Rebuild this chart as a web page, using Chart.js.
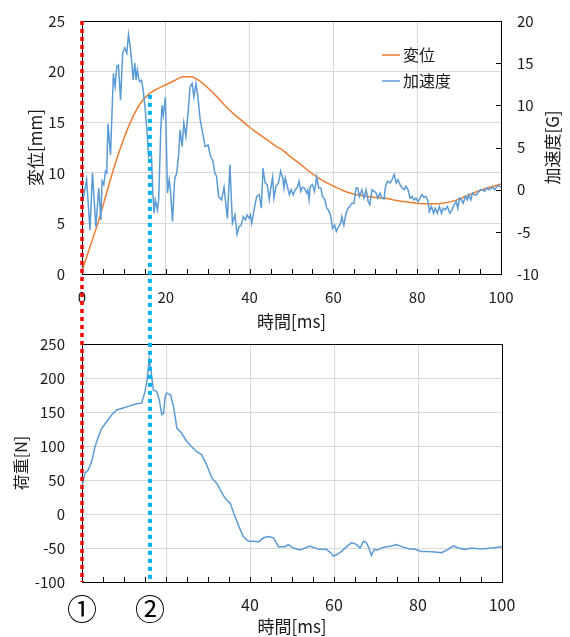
<!DOCTYPE html>
<html lang="ja">
<head>
<meta charset="utf-8">
<script src="https://cdn.jsdelivr.net/npm/chart.js@4.4.1/dist/chart.umd.min.js"></script>
<style>
  body { margin: 0; background: #fff; }
  #wrap { position: relative; width: 570px; height: 637px; }
  canvas { position: absolute; left: 0; display: block; }
  #topChart { top: 0; }
  #loadChart { top: 335px; }
</style>
</head>
<body>
<div id="wrap">
  <canvas id="topChart" width="570" height="335"></canvas>
  <canvas id="loadChart" width="570" height="302"></canvas>
</div>
<script>
// 変位 [mm]
const dispTime = [0, 2, 4, 6, 8, 10, 12, 14, 16, 18, 20, 22, 24, 26, 28, 30, 32, 34, 36, 38, 40,
  42, 44, 46, 48, 50, 52, 54, 56, 58, 60, 62, 64, 66, 68, 70, 72, 74, 76, 78, 80,
  82, 84, 86, 88, 90, 92, 94, 96, 98, 100];
const dispValues = [0.3, 2.8, 5.3, 8.2, 11.0, 13.4, 15.4, 16.9, 17.8, 18.3, 18.7, 19.1, 19.5, 19.5, 19.1, 18.4, 17.6, 16.7, 15.9, 15.2, 14.5,
  13.9, 13.3, 12.7, 12.2, 11.5, 10.9, 10.2, 9.6, 9.1, 8.7, 8.3, 8.0, 7.8, 7.65, 7.55, 7.5, 7.35, 7.2, 7.1, 7.0,
  6.95, 6.95, 7.0, 7.15, 7.4, 7.75, 8.1, 8.4, 8.65, 8.9];

// 加速度 [G]
const accTime = [0.2, 1.1, 1.9, 2.5, 3.3, 4.0, 4.5, 4.8, 5.2, 5.6, 5.9, 6.2, 6.8, 7.5, 7.9, 8.3, 8.7, 9.2, 9.7, 10.2,
  10.7, 11.1, 11.5, 11.9, 12.2, 12.6, 12.9, 13.2, 13.7, 14.2, 14.6, 15.1, 15.6, 15.9, 16.4, 16.6, 16.9, 17.2, 17.5, 18.0,
  18.3, 18.8, 19.1, 19.4, 19.9, 20.4, 20.8, 21.1, 21.6, 22.1, 22.6, 23.1, 23.4, 23.9, 24.3, 24.8, 25.3, 25.8, 26.3, 26.7,
  27.2, 27.7, 28.2, 28.8, 29.4, 30.1, 30.7, 31.2, 31.7, 32.1, 32.6, 33.3, 33.9, 34.7, 35.3, 35.9, 36.5, 37.0, 37.5, 38.0,
  38.5, 39.0, 39.4, 39.9, 40.2, 40.5, 41.2, 41.7, 42.3, 42.8, 43.2, 43.7, 44.2, 44.7, 45.0, 45.5, 45.8, 46.3, 46.9, 47.4,
  47.9, 48.2, 48.5, 49.0, 49.5, 49.9, 50.4, 50.9, 51.4, 51.8, 52.2, 52.6, 53.1, 53.6, 53.9, 54.2, 54.5, 55.0, 55.5, 56.0,
  56.5, 57.0, 57.4, 58.0, 58.4, 58.8, 59.3, 59.8, 60.3, 60.7, 61.2, 61.7, 62.0, 62.5, 63.0, 63.5, 63.9, 64.4, 64.9, 65.4,
  65.8, 66.2, 66.8, 67.3, 67.8, 68.3, 68.7, 69.2, 69.7, 70.2, 70.6, 71.1, 71.6, 72.1, 72.4, 72.9, 73.5, 74.0, 74.5, 75.0,
  75.4, 75.9, 76.4, 76.9, 77.3, 77.8, 78.3, 78.8, 79.2, 79.7, 80.2, 80.7, 81.1, 81.6, 82.1, 82.6, 82.9, 83.4, 83.9, 84.3,
  84.8, 85.3, 85.8, 86.2, 86.7, 87.2, 87.8, 88.3, 88.8, 89.3, 89.7, 90.1, 90.5, 91.0, 91.5, 92.0, 92.3, 92.8, 93.2, 93.7,
  94.2, 94.7, 95.1, 95.6, 96.1, 96.6, 97.1, 97.5, 98.0, 98.5, 98.9, 99.4, 100];
const accValues = [-1.4, 1.2, -4.8, 2.0, -4.4, 0.2, -3.6, 1.0, 0.6, 2.2, 2.0, 7.8, 4.1, 13.8, 12.2, 14.6, 14.8, 10.6, 16.2, 16.8,
  16.2, 18.4, 17.0, 15.0, 13.0, 15.0, 13.0, 14.2, 12.8, 13.0, 11.8, 9.5, 6.3, 3.9, 4.3, 3.9, -0.4, -2.8, -1.2, -2.4,
  -1.2, 7.1, 10.0, 8.8, 11.0, -0.4, 1.2, 0.0, -3.8, 1.2, 2.0, 4.3, 7.1, 5.1, 7.9, 6.3, 9.1, 12.2, 12.6, 11.0,
  12.6, 10.8, 8.3, 6.7, 5.1, 5.3, 3.9, 3.5, 2.0, 1.6, -0.8, -1.2, 0.3, -3.4, 2.95, -3.96, -3.0, -5.3, -4.4, -4.2,
  -3.2, -3.6, -3.0, -3.4, -3.0, -4.0, -2.0, -0.8, -0.6, -2.2, 2.55, 0.8, 0.6, -1.2, 0.0, 1.5, -1.0, 0.4, 0.8, 2.2,
  1.4, 0.2, 1.4, 0.4, -0.6, 0.0, -0.6, 0.0, 0.3, 1.0, -0.2, 0.3, 0.2, -0.4, 0.0, -1.2, 0.4, 0.6, -0.2, 1.5,
  0.2, 0.2, -0.8, -1.2, -2.2, -2.4, -3.0, -4.6, -4.2, -4.95, -4.4, -4.0, -3.2, -4.2, -2.8, -2.2, -2.0, -1.6, -1.6, 0.2,
  0.2, -0.8, 0.0, -1.0, 0.0, -1.4, -1.8, 0.0, -0.2, -0.4, -1.0, -0.4, -1.0, -1.1, 0.3, 1.0, 0.8, 1.2, 1.8, 0.8,
  1.2, 0.6, 0.2, 0.0, 0.4, 0.0, -1.0, -0.8, -1.2, -1.0, -1.4, -1.0, -0.6, -0.9, -0.8, -1.4, -2.6, -2.0, -2.8, -2.2,
  -2.8, -2.0, -2.8, -2.2, -2.4, -2.0, -2.8, -2.4, -1.8, -1.4, -2.2, -1.0, -1.2, -1.6, -0.8, -1.2, -0.6, -1.2, -0.4, -0.6,
  -0.6, -0.2, 0.0, 0.0, -0.2, 0.2, 0.0, 0.1, 0.3, 0.0, 0.3, 0.5, 0.3];

// 荷重 [N]
const loadTime = [0, 0.7, 1.5, 2.3, 3.1, 3.9, 4.7, 5.9, 7.1, 8.3, 9.8, 11.4, 13.0, 14.2, 15.0, 15.5, 16.0, 16.4, 17.0, 17.8,
  18.4, 19.0, 19.4, 19.8, 20.2, 21.1, 21.8, 22.6, 23.7, 24.9, 26.1, 27.3, 28.5, 29.7, 30.9, 32.1, 33.3, 34.1, 35.3, 36.1,
  37.2, 38.4, 39.6, 40.8, 42.0, 43.2, 44.4, 45.6, 46.8, 48.3, 49.1, 50.3, 51.9, 53.1, 54.3, 55.4, 56.6, 58.2, 59.4, 59.8,
  60.6, 61.8, 63.0, 64.2, 65.4, 66.2, 67.0, 67.7, 68.3, 68.9, 69.6, 70.4, 71.3, 72.5, 73.7, 74.9, 76.1, 77.7, 79.3, 80.8,
  82.4, 84.0, 85.6, 87.2, 88.4, 89.6, 91.2, 92.7, 94.3, 95.9, 97.5, 100];
const loadValues = [40, 60, 65, 77, 99, 114, 126, 136, 146, 153, 156, 159, 162, 163, 180, 197, 228, 212, 182, 180,
  168, 146, 148, 173, 178, 175, 158, 126, 119, 107, 99, 92, 87, 72, 53, 45, 31, 23, 16, 1.5,
  -16, -33, -40, -40, -41, -35, -33, -35, -48, -48, -45, -50, -53, -50, -47, -50, -52, -52, -58, -62,
  -60, -55, -48, -42, -45, -50, -40, -42, -50, -61, -52, -53, -50, -48, -47, -45, -48, -51, -52, -55,
  -55, -56, -57, -52, -47, -50, -52, -50, -51, -51, -50, -48];

// 縦の点線 ① ②
const markerTime = [0, 16.2];
const markerTopMm = [25, 17.7];
const markerLabel = ['①', '②'];

const xTicksTop = [0, 20, 40, 60, 80, 100];
const xTicksLoad = [40, 60, 80, 100];

const FONT = "'Noto Sans CJK JP', 'Noto Sans', sans-serif";
const markerStyle = [{ color: '#FF0000', width: 3.5 }, { color: '#00B0F0', width: 4 }];
Chart.defaults.font.family = FONT;
Chart.defaults.color = '#1a1a1a';

const toPoints = (xs, ys) => xs.map((x, i) => ({ x: x, y: ys[i] }));
const gridX = c => (c.tick && c.tick.value % 20 === 0) ? '#d9d9d9' : 'rgba(0,0,0,0)';
// 縦軸の幅を固定し、目盛ラベル分の余白は付けない
const fixWidth = w => s => { s.width = w; s.paddingTop = 0; s.paddingBottom = 0; };

let topSegLen = [0, 0];

function innerTicks(ctx, chart, xScale, rightScale) {
    const a = chart.chartArea;
    ctx.strokeStyle = '#000';
    ctx.lineWidth = 1;
    ctx.beginPath();
    xScale.ticks.forEach(t => {
        const x = Math.round(xScale.getPixelForValue(t.value)) + 0.5;
        ctx.moveTo(x, a.bottom);
        ctx.lineTo(x, a.bottom - 5);
    });
    if (rightScale) {
        rightScale.ticks.forEach(t => {
            const y = Math.round(rightScale.getPixelForValue(t.value)) + 0.5;
            ctx.moveTo(a.right, y);
            ctx.lineTo(a.right - 5, y);
        });
    }
    ctx.stroke();
    // 上と右の枠線
    ctx.beginPath();
    ctx.moveTo(Math.round(a.left), Math.round(a.top) + 0.5);
    ctx.lineTo(Math.round(a.right) + 0.5, Math.round(a.top) + 0.5);
    ctx.lineTo(Math.round(a.right) + 0.5, Math.round(a.bottom) + 0.5);
    ctx.stroke();
}

const topDecor = {
    id: 'topDecor',
    afterDraw(chart) {
        const { ctx, chartArea: a, scales } = chart;
        ctx.save();
        innerTicks(ctx, chart, scales.x, scales.y1);

        // 右軸タイトル
        ctx.fillStyle = '#1a1a1a';
        ctx.font = '17px ' + FONT;
        ctx.textAlign = 'center';
        ctx.textBaseline = 'middle';
        ctx.translate(scales.y1.right - 17, (a.top + a.bottom) / 2);
        ctx.rotate(-Math.PI / 2);
        ctx.fillText('加速度[G]', 0, 0);
        ctx.restore();

        // 凡例
        ctx.save();
        ctx.font = '16px ' + FONT;
        ctx.textBaseline = 'middle';
        ctx.fillStyle = '#1a1a1a';
        chart.data.datasets.forEach((ds, i) => {
            const y = a.top + 34 + i * 26;
            const x = a.right - 119;
            ctx.strokeStyle = ds.borderColor;
            ctx.lineWidth = 1.5;
            ctx.beginPath();
            ctx.moveTo(x, y);
            ctx.lineTo(x + 18, y);
            ctx.stroke();
            ctx.fillText(ds.label, x + 21, y);
        });

        // 点線
        markerTime.forEach((t, i) => {
            const x = scales.x.getPixelForValue(t);
            const y0 = scales.y.getPixelForValue(markerTopMm[i]);
            topSegLen[i] = chart.height - y0;
            ctx.strokeStyle = markerStyle[i].color;
            ctx.lineWidth = markerStyle[i].width;
            ctx.setLineDash([4, 4]);
            ctx.beginPath();
            ctx.moveTo(x, y0);
            ctx.lineTo(x, chart.height);
            ctx.stroke();
        });
        ctx.restore();
    }
};

const loadDecor = {
    id: 'loadDecor',
    afterDraw(chart) {
        const { ctx, chartArea: a, scales } = chart;
        ctx.save();
        innerTicks(ctx, chart, scales.x, null);
        markerTime.forEach((t, i) => {
            const x = scales.x.getPixelForValue(t);
            ctx.strokeStyle = markerStyle[i].color;
            ctx.lineWidth = markerStyle[i].width;
            ctx.setLineDash([4, 4]);
            ctx.lineDashOffset = topSegLen[i] % 8;
            ctx.beginPath();
            ctx.moveTo(x, 0);
            ctx.lineTo(x, a.bottom);
            ctx.stroke();
        });
        ctx.setLineDash([]);
        ctx.fillStyle = '#000';
        ctx.font = '30px ' + FONT;
        ctx.textAlign = 'center';
        ctx.textBaseline = 'middle';
        markerTime.forEach((t, i) => {
            ctx.fillText(markerLabel[i], scales.x.getPixelForValue(t), a.bottom + 27);
        });
        ctx.restore();
    }
};

new Chart(document.getElementById('topChart').getContext('2d'), {
    type: 'line',
    data: {
        datasets: [
            {
                label: '変位',
                data: toPoints(dispTime, dispValues),
                borderColor: '#ED7D31',
                borderWidth: 1.5,
                pointRadius: 0,
                cubicInterpolationMode: 'monotone',
                yAxisID: 'y',
                order: 2
            },
            {
                label: '加速度',
                data: toPoints(accTime, accValues),
                borderColor: '#5B9BD5',
                borderWidth: 1.5,
                pointRadius: 0,
                tension: 0,
                yAxisID: 'y1',
                order: 1
            }
        ]
    },
    options: {
        responsive: false,
        animation: false,
        devicePixelRatio: 1,
        layout: { padding: { top: 21, left: 0, right: 0, bottom: 0 } },
        plugins: { legend: { display: false }, tooltip: { enabled: false } },
        scales: {
            x: {
                type: 'linear', min: 0, max: 100,
                afterFit: s => { s.height = 61; },
                ticks: {
                    stepSize: 5, autoSkip: false, maxRotation: 0, padding: 14,
                    font: { size: 15 },
                    callback: v => xTicksTop.includes(v) ? v : ''
                },
                grid: { color: gridX, drawTicks: false },
                border: { color: '#000' },
                title: { display: true, text: '時間[ms]', font: { size: 17 }, padding: { top: 0, bottom: 3 } }
            },
            y: {
                position: 'left', min: 0, max: 25,
                afterFit: fixWidth(82),
                ticks: { stepSize: 5, padding: 17, font: { size: 15 } },
                grid: { color: '#d9d9d9', drawTicks: false },
                border: { color: '#000' },
                title: { display: true, text: '変位[mm]', font: { size: 17 }, padding: { top: 25, bottom: 0 } }
            },
            y1: {
                position: 'right', min: -10, max: 20,
                afterFit: fixWidth(69),
                ticks: { stepSize: 5, padding: 16, font: { size: 15 } },
                grid: { display: false, drawTicks: false },
                border: { color: '#000' }
            }
        }
    },
    plugins: [topDecor]
});

new Chart(document.getElementById('loadChart').getContext('2d'), {
    type: 'line',
    data: {
        datasets: [{
            label: '荷重',
            data: toPoints(loadTime, loadValues),
            borderColor: '#5B9BD5',
            borderWidth: 1.5,
            pointRadius: 0,
            tension: 0
        }]
    },
    options: {
        responsive: false,
        animation: false,
        devicePixelRatio: 1,
        layout: { padding: { top: 9, left: 0, right: 68, bottom: 0 } },
        plugins: { legend: { display: false }, tooltip: { enabled: false } },
        scales: {
            x: {
                type: 'linear', min: 0, max: 100,
                afterFit: s => { s.height = 55; },
                ticks: {
                    stepSize: 5, autoSkip: false, maxRotation: 0, padding: 13,
                    font: { size: 16 },
                    callback: v => xTicksLoad.includes(v) ? v : ''
                },
                grid: { color: gridX, drawTicks: false },
                border: { color: '#000' },
                title: { display: true, text: '時間[ms]', font: { size: 17 }, padding: { top: 0, bottom: 0 } }
            },
            y: {
                min: -100, max: 250,
                afterFit: fixWidth(82),
                ticks: { stepSize: 50, padding: 17, font: { size: 15 } },
                grid: { color: '#d9d9d9', drawTicks: false },
                border: { color: '#000' },
                title: { display: true, text: '荷重[N]', font: { size: 16 }, padding: { top: 11, bottom: 0 } }
            }
        }
    },
    plugins: [loadDecor]
});
</script>
</body>
</html>
